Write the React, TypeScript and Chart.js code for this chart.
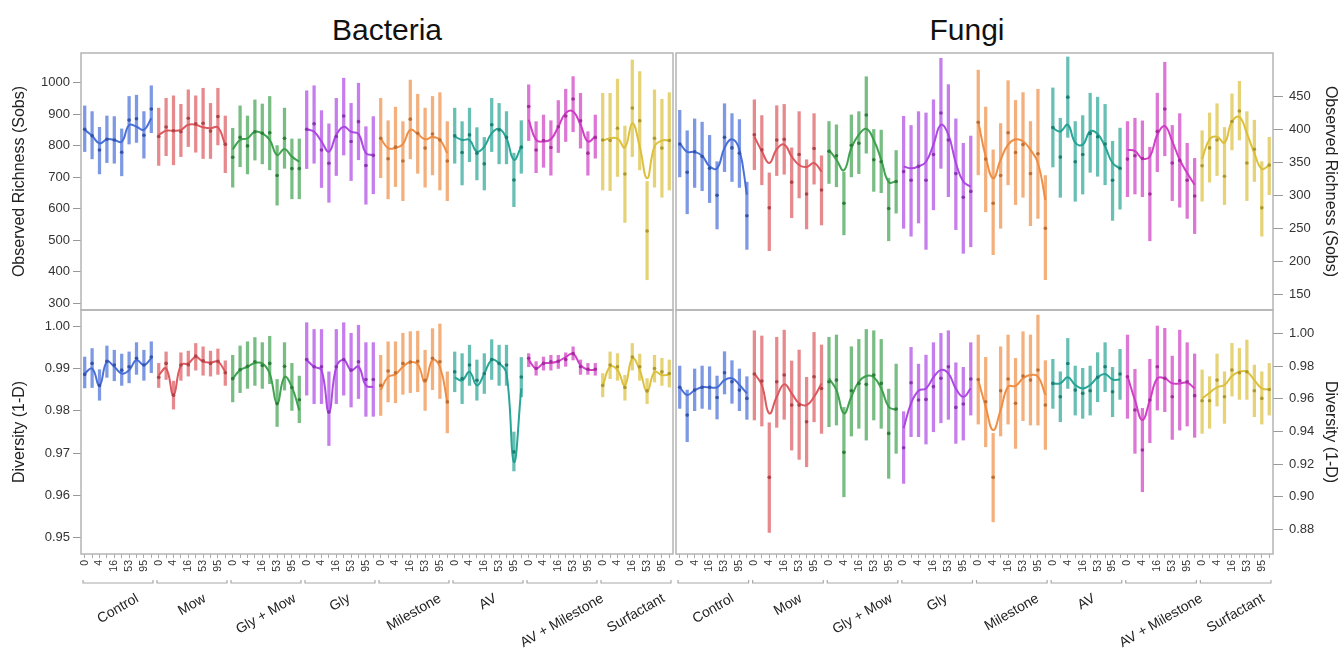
import React, { useEffect, useRef } from 'react';
import { Chart, registerables } from 'chart.js';

Chart.register(...registerables);

const FONT = '"Liberation Sans", Arial, Helvetica, sans-serif';
Chart.defaults.font.family = FONT;

const treatments = ['Control', 'Mow', 'Gly + Mow', 'Gly', 'Milestone', 'AV', 'AV + Milestone', 'Surfactant'];
const timeLabels = ['0', '', '4', '', '16', '', '53', '', '95', ''];
const treatmentColors = [
  '65,105,214', '218,82,88', '56,158,72', '170,65,225',
  '238,138,62', '32,160,145', '205,55,195', '218,190,55',
];

// ---------- Bacteria, Observed Richness (Sobs) ----------
const bacSobsMean = [
  852, 831, 786, 820, 818, 779, 881, 885, 833, 916,
  829, 859, 847, 844, 887, 869, 871, 846, 892, 804,
  763, 826, 799, 844, 839, 841, 705, 823, 727, 727,
  852, 869, 786, 744, 829, 894, 813, 876, 737, 769,
  823, 758, 795, 751, 884, 839, 792, 837, 818, 751,
  831, 778, 834, 776, 742, 866, 850, 826, 691, 795,
  924, 786, 816, 794, 860, 894, 948, 879, 776, 826,
  818, 816, 855, 710, 919, 879, 529, 823, 792, 816,
];
const bacSobsLo = [
  781, 758, 710, 746, 744, 704, 805, 810, 760, 841,
  737, 768, 739, 765, 797, 779, 759, 759, 802, 714,
  668, 733, 710, 754, 742, 723, 611, 728, 631, 631,
  727, 744, 667, 620, 705, 770, 689, 755, 614, 647,
  698, 631, 670, 625, 758, 712, 668, 707, 659, 625,
  744, 675, 749, 691, 659, 781, 742, 742, 606, 712,
  816, 714, 731, 706, 778, 813, 844, 792, 706, 760,
  659, 657, 702, 556, 765, 723, 374, 668, 636, 659,
];
const bacSobsHi = [
  926, 908, 858, 894, 892, 853, 956, 960, 908, 990,
  919, 950, 958, 931, 977, 958, 982, 934, 982, 894,
  855, 926, 894, 945, 932, 956, 800, 919, 821, 821,
  974, 990, 911, 869, 950, 1014, 934, 998, 860, 892,
  950, 879, 922, 876, 1008, 963, 919, 956, 968, 876,
  919, 876, 919, 857, 826, 950, 934, 908, 776, 879,
  993, 876, 897, 879, 943, 979, 1019, 966, 844, 897,
  966, 966, 1011, 862, 1072, 1035, 686, 977, 947, 968,
];
const bacSobsFit = [
  850, 831, 807, 820, 818, 812, 865, 860, 850, 887,
  834, 847, 847, 850, 866, 866, 858, 855, 858, 802,
  788, 818, 823, 844, 839, 818, 770, 789, 765, 749,
  852, 844, 813, 781, 834, 860, 844, 837, 776, 770,
  823, 792, 793, 805, 850, 837, 820, 827, 818, 776,
  829, 818, 818, 781, 797, 839, 853, 823, 755, 797,
  882, 818, 813, 820, 860, 903, 908, 866, 813, 829,
  816, 823, 823, 794, 871, 797, 696, 797, 816, 816,
];
const bacSobsTicks = [300, 400, 500, 600, 700, 800, 900, 1000];

// ---------- Bacteria, Diversity (1-D) ----------
const bacDivMean = [
  0.9886, 0.9912, 0.9860, 0.9917, 0.9908, 0.9896, 0.9904, 0.9924, 0.9908, 0.9927,
  0.9879, 0.9912, 0.9837, 0.9908, 0.9909, 0.9929, 0.9918, 0.9912, 0.9917, 0.9890,
  0.9876, 0.9897, 0.9905, 0.9916, 0.9907, 0.9912, 0.9817, 0.9905, 0.9855, 0.9826,
  0.9921, 0.9904, 0.9904, 0.9797, 0.9904, 0.9921, 0.9896, 0.9916, 0.9874, 0.9874,
  0.9860, 0.9894, 0.9890, 0.9912, 0.9915, 0.9917, 0.9872, 0.9924, 0.9916, 0.9821,
  0.9892, 0.9876, 0.9908, 0.9872, 0.9888, 0.9921, 0.9912, 0.9908, 0.9703, 0.9880,
  0.9924, 0.9900, 0.9912, 0.9916, 0.9917, 0.9921, 0.9935, 0.9904, 0.9898, 0.9898,
  0.9860, 0.9908, 0.9904, 0.9855, 0.9927, 0.9904, 0.9847, 0.9900, 0.9892, 0.9888,
];
const bacDivLo = [
  0.9854, 0.9855, 0.9825, 0.9879, 0.9871, 0.9860, 0.9866, 0.9886, 0.9872, 0.9890,
  0.9855, 0.9874, 0.9804, 0.9872, 0.9882, 0.9896, 0.9884, 0.9882, 0.9886, 0.9860,
  0.9821, 0.9843, 0.9853, 0.9860, 0.9853, 0.9864, 0.9763, 0.9849, 0.9801, 0.9772,
  0.9837, 0.9817, 0.9817, 0.9718, 0.9817, 0.9837, 0.9809, 0.9829, 0.9787, 0.9787,
  0.9789, 0.9821, 0.9819, 0.9839, 0.9843, 0.9845, 0.9801, 0.9850, 0.9829, 0.9748,
  0.9845, 0.9817, 0.9860, 0.9825, 0.9841, 0.9874, 0.9860, 0.9860, 0.9658, 0.9833,
  0.9904, 0.9884, 0.9896, 0.9896, 0.9900, 0.9905, 0.9920, 0.9886, 0.9886, 0.9884,
  0.9833, 0.9876, 0.9872, 0.9825, 0.9896, 0.9872, 0.9817, 0.9868, 0.9860, 0.9856,
];
const bacDivHi = [
  0.9927, 0.9947, 0.9897, 0.9953, 0.9943, 0.9934, 0.9939, 0.9961, 0.9943, 0.9963,
  0.9912, 0.9939, 0.9870, 0.9937, 0.9941, 0.9959, 0.9951, 0.9941, 0.9946, 0.9918,
  0.9931, 0.9953, 0.9963, 0.9973, 0.9961, 0.9976, 0.9874, 0.9961, 0.9912, 0.9882,
  1.0008, 0.9992, 0.9992, 0.9892, 0.9992, 1.0008, 0.9983, 1.0002, 0.9961, 0.9961,
  0.9931, 0.9963, 0.9963, 0.9983, 0.9987, 0.9988, 0.9943, 0.9994, 1.0005, 0.9892,
  0.9939, 0.9935, 0.9955, 0.9920, 0.9935, 0.9968, 0.9955, 0.9955, 0.9750, 0.9926,
  0.9935, 0.9916, 0.9927, 0.9931, 0.9931, 0.9937, 0.9951, 0.9920, 0.9912, 0.9912,
  0.9888, 0.9939, 0.9935, 0.9884, 0.9959, 0.9934, 0.9876, 0.9931, 0.9924, 0.9920,
];
const bacDivFit = [
  0.9888, 0.9900, 0.9860, 0.9916, 0.9904, 0.9888, 0.9896, 0.9920, 0.9908, 0.9924,
  0.9884, 0.9900, 0.9837, 0.9908, 0.9912, 0.9927, 0.9916, 0.9914, 0.9916, 0.9892,
  0.9876, 0.9896, 0.9904, 0.9913, 0.9912, 0.9888, 0.9817, 0.9880, 0.9856, 0.9801,
  0.9920, 0.9904, 0.9896, 0.9797, 0.9904, 0.9920, 0.9896, 0.9904, 0.9860, 0.9856,
  0.9849, 0.9880, 0.9886, 0.9904, 0.9915, 0.9910, 0.9868, 0.9920, 0.9904, 0.9821,
  0.9879, 0.9872, 0.9892, 0.9860, 0.9888, 0.9920, 0.9912, 0.9888, 0.9679, 0.9853,
  0.9920, 0.9900, 0.9912, 0.9913, 0.9917, 0.9927, 0.9935, 0.9908, 0.9897, 0.9897,
  0.9858, 0.9904, 0.9896, 0.9860, 0.9924, 0.9896, 0.9845, 0.9892, 0.9884, 0.9886,
];
const bacDivTicks = [0.95, 0.96, 0.97, 0.98, 0.99, 1.0];

// ---------- Fungi, Observed Richness (Sobs) ----------
const funSobsMean = [
  378, 335, 366, 359, 341, 300, 388, 372, 364, 269,
  392, 369, 281, 384, 385, 320, 362, 302, 371, 308,
  367, 360, 288, 376, 379, 422, 354, 351, 280, 321,
  336, 323, 344, 323, 362, 425, 384, 333, 297, 306,
  411, 355, 288, 330, 395, 365, 377, 333, 363, 250,
  403, 358, 449, 351, 362, 394, 389, 378, 323, 341,
  355, 360, 356, 302, 397, 431, 349, 353, 323, 299,
  345, 372, 384, 329, 412, 428, 349, 370, 281, 346,
];
const funSobsLo = [
  328, 272, 312, 307, 289, 249, 336, 321, 312, 218,
  339, 316, 216, 330, 332, 266, 296, 249, 317, 255,
  318, 313, 240, 328, 333, 364, 306, 304, 231, 273,
  250, 238, 258, 218, 278, 341, 298, 248, 212, 222,
  331, 275, 210, 250, 316, 286, 297, 254, 265, 172,
  343, 297, 388, 291, 302, 335, 329, 316, 262, 279,
  298, 302, 298, 231, 336, 360, 292, 282, 265, 242,
  291, 320, 330, 286, 369, 384, 292, 321, 238, 301,
];
const funSobsHi = [
  429, 398, 416, 411, 391, 351, 439, 424, 415, 320,
  445, 421, 334, 436, 438, 372, 427, 354, 424, 360,
  412, 407, 335, 422, 427, 480, 400, 399, 326, 368,
  420, 406, 427, 425, 445, 508, 468, 416, 379, 390,
  490, 434, 369, 409, 474, 444, 456, 412, 461, 330,
  463, 417, 510, 412, 421, 455, 449, 438, 382, 402,
  412, 417, 413, 373, 455, 502, 406, 424, 379, 356,
  398, 425, 439, 403, 454, 473, 427, 414, 351, 388,
];
const funSobsFit = [
  379, 366, 366, 360, 344, 341, 372, 385, 369, 301,
  389, 367, 349, 370, 377, 359, 346, 343, 349, 336,
  369, 354, 338, 372, 392, 401, 384, 354, 320, 321,
  344, 341, 344, 351, 377, 407, 392, 349, 321, 313,
  412, 359, 326, 354, 377, 385, 382, 369, 349, 293,
  402, 397, 407, 380, 377, 397, 393, 374, 349, 341,
  369, 367, 356, 359, 392, 405, 382, 354, 334, 316,
  355, 385, 389, 380, 412, 419, 394, 364, 340, 346,
];
const funSobsTicks = [150, 200, 250, 300, 350, 400, 450];

// ---------- Fungi, Diversity (1-D) ----------
const funDivMean = [
  0.9670, 0.9500, 0.9653, 0.9670, 0.9670, 0.9608, 0.9759, 0.9704, 0.9653, 0.9602,
  0.9751, 0.9708, 0.9119, 0.9704, 0.9745, 0.9561, 0.9561, 0.9459, 0.9735, 0.9663,
  0.9704, 0.9714, 0.9272, 0.9649, 0.9694, 0.9688, 0.9745, 0.9694, 0.9388, 0.9537,
  0.9300, 0.9698, 0.9592, 0.9596, 0.9674, 0.9725, 0.9796, 0.9547, 0.9568, 0.9721,
  0.9718, 0.9582, 0.9119, 0.9649, 0.9721, 0.9572, 0.9739, 0.9714, 0.9776, 0.9561,
  0.9694, 0.9612, 0.9816, 0.9653, 0.9633, 0.9649, 0.9731, 0.9796, 0.9643, 0.9751,
  0.9735, 0.9531, 0.9286, 0.9592, 0.9796, 0.9725, 0.9612, 0.9710, 0.9704, 0.9619,
  0.9588, 0.9588, 0.9714, 0.9612, 0.9776, 0.9759, 0.9765, 0.9649, 0.9602, 0.9657,
];
const funDivLo = [
  0.9541, 0.9337, 0.9527, 0.9541, 0.9535, 0.9476, 0.9629, 0.9572, 0.9527, 0.9474,
  0.9470, 0.9433, 0.8782, 0.9425, 0.9474, 0.9286, 0.9229, 0.9184, 0.9459, 0.9388,
  0.9429, 0.9439, 0.9000, 0.9372, 0.9419, 0.9347, 0.9470, 0.9419, 0.9113, 0.9266,
  0.9082, 0.9368, 0.9368, 0.9323, 0.9398, 0.9453, 0.9474, 0.9327, 0.9347, 0.9500,
  0.9445, 0.9306, 0.8847, 0.9372, 0.9445, 0.9296, 0.9466, 0.9439, 0.9439, 0.9290,
  0.9541, 0.9459, 0.9663, 0.9500, 0.9480, 0.9500, 0.9582, 0.9643, 0.9490, 0.9596,
  0.9480, 0.9266, 0.9031, 0.9331, 0.9531, 0.9521, 0.9351, 0.9408, 0.9433, 0.9364,
  0.9388, 0.9419, 0.9555, 0.9449, 0.9616, 0.9596, 0.9596, 0.9490, 0.9445, 0.9500,
];
const funDivHi = [
  0.9800, 0.9653, 0.9782, 0.9800, 0.9796, 0.9739, 0.9888, 0.9833, 0.9782, 0.9735,
  1.0016, 0.9984, 0.9453, 0.9976, 1.0020, 0.9831, 0.9898, 0.9731, 1.0006, 0.9929,
  0.9976, 0.9990, 0.9547, 0.9918, 0.9963, 1.0024, 1.0016, 0.9963, 0.9659, 0.9812,
  0.9521, 0.9914, 0.9812, 0.9867, 0.9943, 1.0000, 1.0016, 0.9820, 0.9792, 0.9943,
  0.9990, 0.9853, 0.9388, 0.9918, 0.9990, 0.9847, 1.0010, 0.9990, 1.0112, 0.9833,
  0.9841, 0.9765, 0.9969, 0.9800, 0.9786, 0.9800, 0.9882, 0.9943, 0.9792, 0.9902,
  0.9990, 0.9780, 0.9541, 0.9841, 1.0045, 1.0031, 0.9861, 1.0020, 0.9943, 0.9874,
  0.9776, 0.9735, 0.9874, 0.9765, 0.9939, 0.9908, 0.9959, 0.9806, 0.9765, 0.9816,
];
const funDivFit = [
  0.9670, 0.9623, 0.9653, 0.9670, 0.9670, 0.9670, 0.9714, 0.9725, 0.9684, 0.9633,
  0.9755, 0.9684, 0.9510, 0.9612, 0.9688, 0.9633, 0.9572, 0.9561, 0.9612, 0.9694,
  0.9725, 0.9653, 0.9510, 0.9612, 0.9704, 0.9739, 0.9731, 0.9663, 0.9551, 0.9531,
  0.9419, 0.9572, 0.9649, 0.9663, 0.9731, 0.9776, 0.9755, 0.9663, 0.9612, 0.9663,
  0.9714, 0.9551, 0.9408, 0.9531, 0.9674, 0.9678, 0.9725, 0.9745, 0.9735, 0.9623,
  0.9694, 0.9694, 0.9731, 0.9684, 0.9663, 0.9684, 0.9731, 0.9751, 0.9718, 0.9718,
  0.9739, 0.9592, 0.9470, 0.9592, 0.9725, 0.9725, 0.9694, 0.9694, 0.9698, 0.9663,
  0.9602, 0.9637, 0.9670, 0.9684, 0.9739, 0.9765, 0.9765, 0.9714, 0.9663, 0.9657,
];
const funDivTicks = [0.88, 0.9, 0.92, 0.94, 0.96, 0.98, 1.0];

const xLabels = treatments.flatMap(() => timeLabels);

const framePlugin = {
  id: 'panelFrame',
  afterDatasetsDraw(chart: any) {
    const { ctx, chartArea } = chart;
    ctx.save();
    ctx.strokeStyle = '#b4b4b4';
    ctx.lineWidth = 1.5;
    ctx.strokeRect(chartArea.left, chartArea.top, chartArea.right - chartArea.left, chartArea.bottom - chartArea.top);
    ctx.restore();
  },
};

const groupLabelPlugin = {
  id: 'groupLabels',
  afterDraw(chart: any) {
    const opts = chart.options.plugins.groupLabels;
    if (!opts || !opts.show) return;
    const x = chart.scales.x;
    const ctx = chart.ctx;
    const step = x.getPixelForValue(1) - x.getPixelForValue(0);
    ctx.save();
    treatments.forEach((t, g) => {
      const x0 = x.getPixelForValue(g * 10) - step / 2 + 2;
      const x1 = x.getPixelForValue(g * 10 + 9) + step / 2 - 2;
      const yb = opts.bracketY;
      ctx.strokeStyle = '#a8a8a8';
      ctx.lineWidth = 1.2;
      ctx.beginPath();
      ctx.moveTo(x0, yb - 3);
      ctx.lineTo(x0, yb);
      ctx.lineTo(x1, yb);
      ctx.lineTo(x1, yb - 3);
      ctx.stroke();
      ctx.font = `14px ${FONT}`;
      ctx.fillStyle = '#222';
      const w = ctx.measureText(t).width;
      const ang = Math.PI / 6;
      const cx = (x0 + x1) / 2;
      ctx.save();
      ctx.translate(cx + (w / 2) * Math.cos(ang), opts.labelY);
      ctx.rotate(-ang);
      ctx.textAlign = 'right';
      ctx.textBaseline = 'middle';
      ctx.fillText(t, 0, 0);
      ctx.restore();
    });
    ctx.restore();
  },
};

type PanelProps = {
  left: number; top: number; width: number; height: number;
  mean: number[]; lo: number[]; hi: number[]; fit: number[];
  yMin: number; yMax: number; yTicks: number[]; decimals: number;
  side: 'left' | 'right'; showX: boolean; yTitle: string;
  pad: { left: number; right: number; top: number; bottom: number };
  axisWidth: number; titlePad: number;
};

function Panel(p: PanelProps) {
  const ref = useRef<HTMLCanvasElement>(null);
  useEffect(() => {
    if (!ref.current) return;
    const col = (i: number, a: number) => `rgba(${treatmentColors[Math.floor(i / 10)]},${a})`;
    const dark = (i: number) => {
      const [r, g, b] = treatmentColors[Math.floor(i / 10)].split(',').map(Number);
      return `rgb(${Math.round(r * 0.8)},${Math.round(g * 0.8)},${Math.round(b * 0.8)})`;
    };
    const datasets: any[] = [
      {
        type: 'bar',
        data: p.lo.map((l, i) => [l, p.hi[i]]),
        backgroundColor: xLabels.map((_, i) => col(i, 0.68)),
        barThickness: 2.6,
        grouped: false,
        order: 3,
      },
      ...treatments.map((_, g) => ({
        type: 'line',
        data: p.fit.map((v, i) => (Math.floor(i / 10) === g ? v : null)),
        borderColor: `rgba(${treatmentColors[g]},0.95)`,
        borderWidth: 2,
        pointRadius: 0,
        tension: 0.45,
        spanGaps: false,
        fill: false,
        order: 2,
      })),
      {
        type: 'line',
        data: p.mean,
        showLine: false,
        pointRadius: 1.8,
        pointBorderWidth: 0,
        pointBackgroundColor: xLabels.map((_, i) => dark(i)),
        order: 1,
      },
    ];
    const chart = new Chart(ref.current, {
      type: 'bar',
      data: { labels: xLabels, datasets },
      plugins: [framePlugin, groupLabelPlugin],
      options: {
        responsive: false,
        animation: false,
        devicePixelRatio: 1,
        events: [],
        layout: { padding: p.pad },
        plugins: {
          legend: { display: false },
          tooltip: { enabled: false },
          groupLabels: { show: p.showX, bracketY: 277, labelY: 291.5 },
        } as any,
        scales: {
          x: {
            type: 'category',
            display: p.showX,
            offset: true,
            grid: { display: true, drawOnChartArea: false, drawTicks: true, tickLength: 4, color: '#aaa', offset: false },
            border: { display: false },
            ticks: { autoSkip: false, maxRotation: 90, minRotation: 90, padding: 2, color: '#333', font: { size: 10.5 } },
            afterFit: (s: any) => {
              if (p.showX) { s.height = 100; } else { s.height = 0; }
              s.paddingLeft = 0; s.paddingRight = 0;
            },
          },
          y: {
            type: 'linear',
            position: p.side,
            min: p.yMin,
            max: p.yMax,
            afterBuildTicks: (s: any) => { s.ticks = p.yTicks.map((v) => ({ value: v })); },
            afterFit: (s: any) => { s.width = p.axisWidth; s.paddingTop = 0; s.paddingBottom = 0; },
            grid: { drawOnChartArea: false, drawTicks: true, tickLength: p.side === 'left' ? 8 : 10, color: '#999' },
            border: { display: false },
            ticks: {
              padding: p.side === 'left' ? 3 : 6,
              color: '#333',
              font: { size: 13 },
              callback: (v: any) => Number(v).toFixed(p.decimals),
            },
            title: { display: true, text: p.yTitle, color: '#222', font: { size: 16 }, padding: { top: p.titlePad, bottom: 0 } },
          },
        },
      } as any,
    });
    return () => chart.destroy();
  }, []);
  return (
    <canvas
      ref={ref}
      width={p.width}
      height={p.height}
      style={{ position: 'absolute', left: p.left, top: p.top, width: p.width, height: p.height }}
    />
  );
}

export default function App() {
  const titleStyle: React.CSSProperties = {
    position: 'absolute', top: 30, transform: 'translate(-50%, -50%)',
    fontFamily: FONT, fontSize: 30, color: '#111', whiteSpace: 'nowrap',
  };
  return (
    <div style={{ position: 'absolute', left: 0, top: 0, width: 1341, height: 654, background: '#fff', overflow: 'hidden' }}>
      <div style={{ ...titleStyle, left: 387 }}>Bacteria</div>
      <div style={{ ...titleStyle, left: 967 }}>Fungi</div>
      <Panel left={0} top={48} width={678} height={266}
        mean={bacSobsMean} lo={bacSobsLo} hi={bacSobsHi} fit={bacSobsFit}
        yMin={278} yMax={1094} yTicks={bacSobsTicks} decimals={0}
        side="left" showX={false} yTitle="Observed Richness (Sobs)"
        pad={{ left: 0, right: 5, top: 5, bottom: 4 }} axisWidth={81} titlePad={10.4} />
      <Panel left={0} top={306} width={678} height={348}
        mean={bacDivMean} lo={bacDivLo} hi={bacDivHi} fit={bacDivFit}
        yMin={0.9462} yMax={1.0038} yTicks={bacDivTicks} decimals={2}
        side="left" showX={true} yTitle="Diversity (1-D)"
        pad={{ left: 0, right: 5, top: 4, bottom: 0 }} axisWidth={81} titlePad={10.4} />
      <Panel left={671} top={48} width={670} height={266}
        mean={funSobsMean} lo={funSobsLo} hi={funSobsHi} fit={funSobsFit}
        yMin={126} yMax={516} yTicks={funSobsTicks} decimals={0}
        side="right" showX={false} yTitle="Observed Richness (Sobs)"
        pad={{ left: 5, right: 0, top: 5, bottom: 4 }} axisWidth={68} titlePad={1.4} />
      <Panel left={671} top={306} width={670} height={348}
        mean={funDivMean} lo={funDivLo} hi={funDivHi} fit={funDivFit}
        yMin={0.865} yMax={1.0143} yTicks={funDivTicks} decimals={2}
        side="right" showX={true} yTitle="Diversity (1-D)"
        pad={{ left: 5, right: 0, top: 4, bottom: 0 }} axisWidth={68} titlePad={1.4} />
    </div>
  );
}
